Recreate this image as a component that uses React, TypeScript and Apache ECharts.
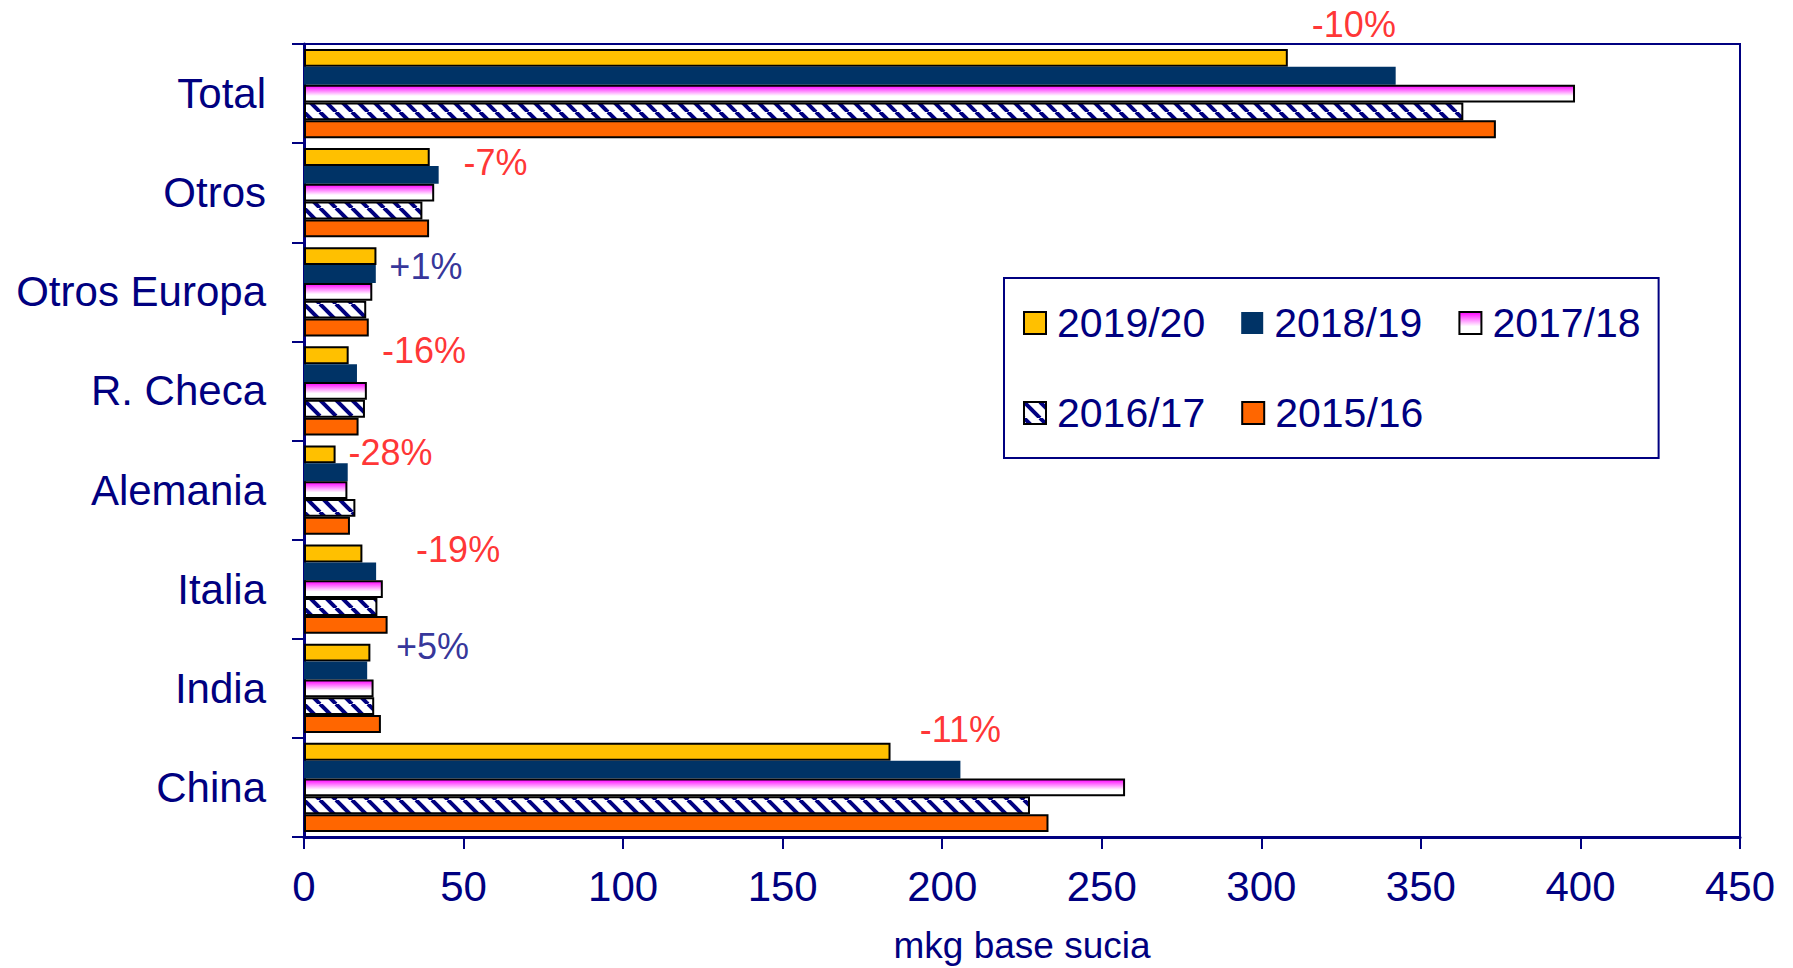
import React, { useEffect, useRef } from "react";
import * as echarts from "echarts";

const categories = ["China", "India", "Italia", "Alemania", "R. Checa", "Otros Europa", "Otros", "Total"];
const seriesNames = ["2019/20", "2018/19", "2017/18", "2016/17", "2015/16"];
const v2019 = [183.8, 20.8, 18.3, 9.9, 14.0, 22.7, 39.4, 308.3];
const v2018 = [205.7, 19.8, 22.6, 13.7, 16.6, 22.5, 42.2, 342.1];
const v2017 = [257.3, 21.8, 24.7, 13.6, 19.7, 21.4, 40.8, 398.3];
const v2016 = [227.5, 22.0, 23.0, 16.1, 19.1, 19.5, 37.1, 363.3];
const v2015 = [233.3, 24.1, 26.2, 14.4, 17.1, 20.3, 39.2, 373.5];

const changeLabels = ["-11%", "+5%", "-19%", "-28%", "-16%", "+1%", "-7%", "-10%"];
const changeX = [205.7, 40.3, 48.3, 27.1, 37.6, 38.2, 60.0, 329.0];
const changeY = [1.08, 1.92, 2.9, 3.88, 4.91, 5.76, 6.8, 8.2];

const xTicks = { min: 0, max: 450, interval: 50 };

const NAVY = "#000080";
const FONT = "'Liberation Sans', Arial, sans-serif";

function makeHatch() {
  const c = document.createElement("canvas");
  c.width = 16;
  c.height = 16;
  const ctx = c.getContext("2d")!;
  ctx.fillStyle = "#ffffff";
  ctx.fillRect(0, 0, 16, 16);
  ctx.strokeStyle = NAVY;
  ctx.lineWidth = 4;
  for (const o of [-16, 0, 16]) {
    ctx.beginPath();
    ctx.moveTo(o, 0);
    ctx.lineTo(o + 16, 16);
    ctx.stroke();
  }
  return c;
}

export default function App() {
  const ref = useRef<HTMLDivElement>(null);
  useEffect(() => {
    document.body.style.margin = "0";
    const chart = echarts.init(ref.current!, null, { renderer: "svg" });
    const border = { borderColor: "#000000", borderWidth: 2 };
    const values = [v2019, v2018, v2017, v2016, v2015];
    const styles: any[] = [
      { color: "#FFC000", ...border },
      { color: "#003366", borderWidth: 0 },
      {
        color: new echarts.graphic.LinearGradient(0, 0, 0, 1, [
          { offset: 0, color: "#FF00FF" },
          { offset: 0.65, color: "#FFFFFF" },
          { offset: 1, color: "#FFFFFF" },
        ]),
        ...border,
      },
      { color: { image: makeHatch(), repeat: "repeat" }, ...border },
      { color: "#FF6600", ...border },
    ];
    const barSeries = seriesNames.map((name, i) => ({
      name,
      type: "bar",
      data: values[i],
      barGap: "0%",
      barCategoryGap: "10%",
      itemStyle: styles[i],
      silent: true,
    }));
    chart.setOption({
      animation: false,
      textStyle: { fontFamily: FONT },
      grid: {
        left: 304,
        width: 1436,
        top: 44,
        height: 793,
        containLabel: false,
        outerBoundsMode: "none",
        show: true,
        borderColor: NAVY,
        borderWidth: 2,
        backgroundColor: "transparent",
      },
      legend: {
        data: seriesNames,
        left: 1004,
        top: 278,
        orient: "horizontal",
        width: 630,
        icon: "rect",
        itemWidth: 22,
        itemHeight: 22,
        itemGap: 36,
        padding: [18, 18, 18, 19],
        borderColor: NAVY,
        borderWidth: 2,
        textStyle: { fontSize: 41, color: NAVY, lineHeight: 54, fontFamily: FONT, padding: [0, 0, 0, 6] },
        selectedMode: false,
      },
      xAxis: {
        type: "value",
        ...xTicks,
        name: "mkg base sucia",
        nameLocation: "middle",
        nameGap: 90,
        nameTextStyle: { fontSize: 37, color: NAVY, fontFamily: FONT },
        axisLine: { show: true, lineStyle: { color: NAVY, width: 3 } },
        axisTick: { show: true, length: 12, lineStyle: { color: NAVY, width: 2 } },
        axisLabel: { fontSize: 42, color: NAVY, margin: 28, fontFamily: FONT },
        splitLine: { show: false },
      },
      yAxis: [
        {
          type: "category",
          data: categories,
          axisLine: { show: true, lineStyle: { color: NAVY, width: 3 } },
          axisTick: { show: true, length: 12, lineStyle: { color: NAVY, width: 2 } },
          axisLabel: { fontSize: 42, color: NAVY, margin: 38, fontFamily: FONT },
        },
        { type: "value", min: 0, max: 8, show: false },
      ],
      series: [
        ...barSeries,
        {
          name: "cambio",
          type: "scatter",
          xAxisIndex: 0,
          yAxisIndex: 1,
          clip: false,
          symbolSize: 1,
          silent: true,
          itemStyle: { color: "transparent" },
          z: 10,
          data: changeX.map((x, i) => ({
            value: [x, changeY[i]],
            label: { color: changeLabels[i].startsWith("+") ? NAVY : "#FF0000" },
          })),
          label: {
            show: true,
            position: "inside",
            fontSize: 36,
            fontFamily: FONT,
            formatter: (p: any) => changeLabels[p.dataIndex],
          },
        },
      ],
    });
    return () => chart.dispose();
  }, []);
  return <div ref={ref} style={{ width: 1793, height: 968 }} />;
}
